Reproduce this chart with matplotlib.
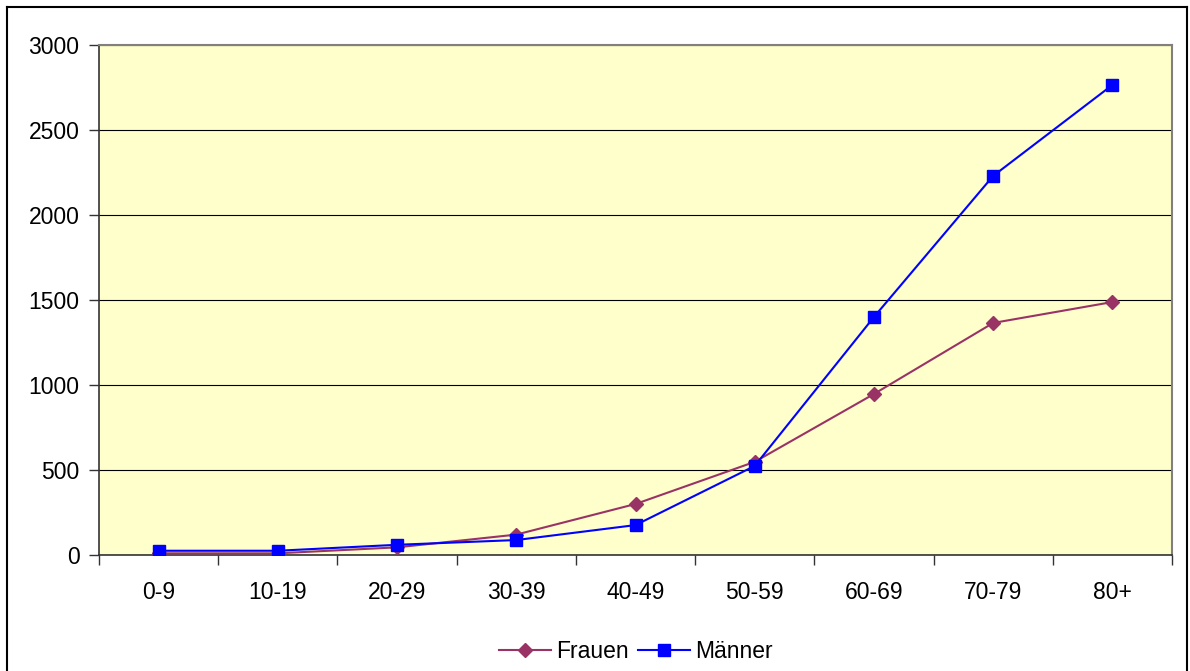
import matplotlib
matplotlib.use("Agg")
import matplotlib.pyplot as plt
from matplotlib.lines import Line2D

plt.rcParams['font.family'] = ['Liberation Sans', 'DejaVu Sans']

# age groups and counts per sex
age_groups = ["0-9", "10-19", "20-29", "30-39", "40-49",
              "50-59", "60-69", "70-79", "80+"]
frauen = [10, 10, 45, 120, 300, 548, 947, 1365, 1488]
maenner = [25, 25, 60, 88, 176, 524, 1400, 2230, 2765]


def main():
    fig = plt.figure(figsize=(11.9, 6.71), dpi=100)
    ax = fig.add_axes([99 / 1190, 116 / 671, 1073 / 1190, 510 / 671])
    ax.set_facecolor("#FFFFCC")

    x = list(range(len(age_groups)))
    ax.plot(x, frauen, color="#993366", lw=1.5, marker="D", ms=7,
            label="Frauen", zorder=3)
    ax.plot(x, maenner, color="#0000FF", lw=1.5, marker="s", ms=8,
            label="Männer", zorder=4)

    ax.set_xlim(-0.5, len(age_groups) - 0.5)
    ax.set_ylim(0, 3000)
    ax.set_yticks(range(0, 3001, 500))
    ax.set_xticks(x)
    ax.set_xticklabels(age_groups)
    ax.set_xticks([i - 0.5 for i in range(len(age_groups) + 1)], minor=True)
    ax.tick_params(axis="x", which="major", length=0, pad=19, labelsize=16.5)
    ax.tick_params(axis="x", which="minor", length=7, width=1,
                   color="#333333", direction="out")
    ax.tick_params(axis="y", length=7, width=1, color="#333333",
                   pad=7, labelsize=16.5)
    ax.yaxis.grid(True, color="#000000", lw=0.8)
    ax.set_axisbelow(True)

    for side in ("top", "right"):
        ax.spines[side].set_color("#808080")
        ax.spines[side].set_linewidth(1.5)
    for side in ("left", "bottom"):
        ax.spines[side].set_color("#333333")
        ax.spines[side].set_linewidth(1.2)

    ax.legend(loc="center", bbox_to_anchor=(0.5, -0.19), ncol=2,
              frameon=False, fontsize=16.5, handlelength=2.3,
              handletextpad=0.2, columnspacing=0.4)

    # frame around the whole chart, open at the bottom
    W, H = 1190, 671
    for xs, ys in [((7 / W, 7 / W), (0, 1 - 7 / H)),
                   ((1187 / W, 1187 / W), (0, 1 - 7 / H)),
                   ((7 / W, 1187 / W), (1 - 7 / H, 1 - 7 / H))]:
        fig.add_artist(Line2D(xs, ys, color="black", lw=1.5,
                              transform=fig.transFigure))

    fig.savefig("out.png", dpi=100)


if __name__ == '__main__':
    main()
